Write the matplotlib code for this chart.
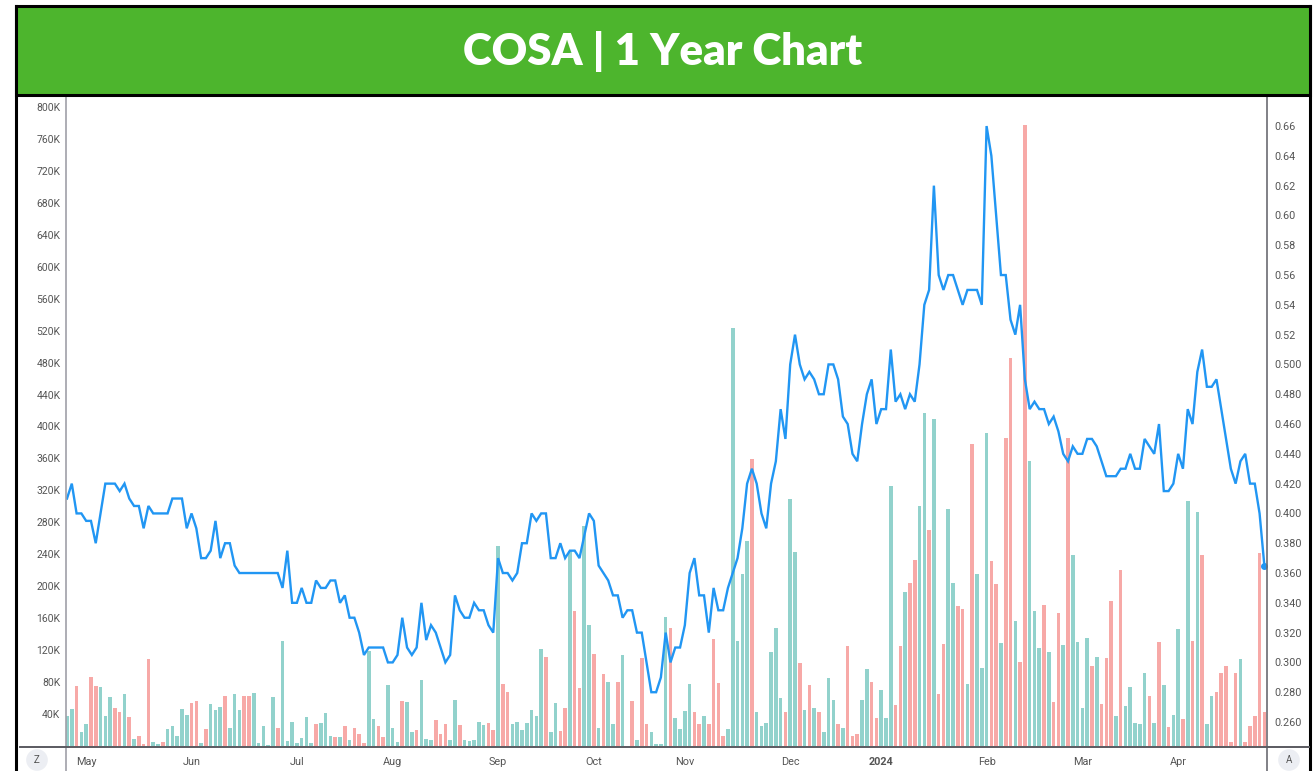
import matplotlib.pyplot as plt
from matplotlib.lines import Line2D
from matplotlib.patches import Rectangle


title = 'COSA | 1 Year Chart'

# closing price per trading day (bar index 0..250)
prices = [
    0.41, 0.42, 0.40, 0.40, 0.395, 0.395, 0.38, 0.40, 0.42, 0.42,
    0.42, 0.415, 0.42, 0.41, 0.405, 0.405, 0.39, 0.405, 0.40, 0.40,
    0.40, 0.40, 0.41, 0.41, 0.41, 0.39, 0.40, 0.39, 0.37, 0.37,
    0.375, 0.395, 0.37, 0.38, 0.38, 0.365, 0.36, 0.36, 0.36, 0.36,
    0.36, 0.36, 0.36, 0.36, 0.36, 0.35, 0.375, 0.34, 0.34, 0.35,
    0.34, 0.34, 0.355, 0.35, 0.35, 0.355, 0.355, 0.34, 0.345, 0.33,
    0.33, 0.32, 0.305, 0.31, 0.31, 0.31, 0.31, 0.30, 0.30, 0.305,
    0.33, 0.31, 0.305, 0.31, 0.34, 0.315, 0.325, 0.32, 0.31, 0.30,
    0.305, 0.345, 0.335, 0.33, 0.33, 0.34, 0.335, 0.335, 0.325, 0.32,
    0.37, 0.36, 0.36, 0.355, 0.36, 0.38, 0.38, 0.40, 0.395, 0.40,
    0.40, 0.37, 0.37, 0.38, 0.37, 0.375, 0.375, 0.37, 0.385, 0.40,
    0.395, 0.365, 0.36, 0.355, 0.345, 0.345, 0.33, 0.335, 0.335, 0.32,
    0.32, 0.30, 0.28, 0.28, 0.29, 0.32, 0.30, 0.31, 0.31, 0.325,
    0.36, 0.37, 0.345, 0.345, 0.32, 0.35, 0.335, 0.335, 0.35, 0.36,
    0.37, 0.39, 0.42, 0.43, 0.42, 0.40, 0.39, 0.42, 0.435, 0.47,
    0.45, 0.50, 0.52, 0.50, 0.49, 0.495, 0.49, 0.48, 0.48, 0.50,
    0.50, 0.49, 0.465, 0.46, 0.44, 0.435, 0.46, 0.48, 0.49, 0.46,
    0.47, 0.47, 0.51, 0.475, 0.48, 0.47, 0.48, 0.475, 0.50, 0.54,
    0.55, 0.62, 0.56, 0.55, 0.56, 0.56, 0.55, 0.54, 0.55, 0.55,
    0.55, 0.54, 0.66, 0.64, 0.60, 0.56, 0.56, 0.53, 0.52, 0.54,
    0.49, 0.47, 0.475, 0.47, 0.47, 0.46, 0.465, 0.455, 0.44, 0.435,
    0.445, 0.44, 0.44, 0.45, 0.45, 0.445, 0.435, 0.425, 0.425, 0.425,
    0.43, 0.43, 0.44, 0.43, 0.43, 0.45, 0.445, 0.44, 0.46, 0.415,
    0.415, 0.42, 0.44, 0.43, 0.47, 0.46, 0.495, 0.51, 0.485, 0.485,
    0.49, 0.47, 0.45, 0.43, 0.42, 0.435, 0.44, 0.42, 0.42, 0.40,
    0.365,
]

# daily volume in thousands of shares
volumes_k = [
    38, 46, 75, 18, 27.5, 86, 75, 74, 37, 61,
    48, 43, 65, 36, 9, 12.5, 3, 109, 5, 3,
    5, 21, 24.5, 12, 46, 39, 54, 56, 4, 21,
    52, 45, 49, 62, 23, 65, 45, 63, 62.5, 66,
    4, 25, 1.5, 61, 22, 131, 6, 30, 4, 10,
    36, 4, 27.5, 29, 41, 12, 11, 11, 25, 7.5,
    23, 15, 4, 119, 34, 25, 11, 76, 23, 5,
    56, 55, 18, 20, 82.5, 9, 7.5, 32.5, 15, 28,
    7.5, 58, 26, 7.5, 6, 7.5, 30, 26, 29, 20,
    250, 78, 67, 28, 30, 20, 29, 45, 37, 121,
    112, 18, 54, 19, 48, 244, 169, 72, 275, 151,
    115, 23, 90, 80, 27, 80, 114, 0.5, 56, 7.5,
    110, 27, 17, 2, 2.5, 162, 148, 35, 21, 44,
    78, 43, 27.5, 38, 27.5, 134, 79, 12, 21, 523,
    132, 215, 257, 359, 42, 25, 29, 117.5, 147.5, 60,
    43, 309, 243, 104, 45, 76, 47, 42, 18, 85,
    58, 27.5, 22, 125, 12, 15, 58, 97, 80, 35,
    70, 35, 326, 51, 125, 193, 204, 233, 301, 417,
    271, 410, 65, 128, 297, 204, 175, 172, 78, 378,
    215, 98, 392, 231, 203, 129, 385, 486, 156, 105,
    777, 357, 169, 123, 176, 117.5, 54.5, 167, 127, 386,
    239, 130, 48, 135, 100, 111, 52, 110, 182, 38,
    220, 50, 74, 29, 27.5, 91, 63, 29, 130, 76,
    24, 39, 146, 34, 307, 132, 293, 239, 27.5, 62,
    68, 92, 100, 4.6, 92, 109, 5, 25, 37, 241,
    43,
]

# g = up day, r = down day (volume bar colour)
bar_sides = list(
    "ggrggrrggg" "rrgrgrrrgg" "rgggggrrgr" "gggrgggrrg" "ggggrggggg"
    "ggrgggrgrg" "rrrggrrggg" "rggrgggrrr" "ggrgggggrr" "grrggggggg"
    "rggrrgrrgg" "rgrggrggrg" "rrggggrggg" "grrgrrrrgg" "gggrgggggg"
    "rggrgrgrgg" "grgrrrggrr" "gggrrgrrgg" "rgrrggrrgr" "gggrrgrrgr"
    "rgggrgrrgr" "ggggrgrrrg" "rgggggrgrg" "rggrgrgrgg" "rrrrrgrrrr"
    "r"
)

month_pos = [4, 26, 48, 68, 90, 110, 129, 151, 170, 192, 212, 232]
month_labels = ['May', 'Jun', 'Jul', 'Aug', 'Sep', 'Oct', 'Nov', 'Dec',
                '2024', 'Feb', 'Mar', 'Apr']
vol_ticks_k = [40, 80, 120, 160, 200, 240, 280, 320, 360, 400,
               440, 480, 520, 560, 600, 640, 680, 720, 760, 800]
price_ticks = [0.26, 0.28, 0.30, 0.32, 0.34, 0.36, 0.38, 0.40, 0.42, 0.44,
               0.46, 0.48, 0.50, 0.52, 0.54, 0.56, 0.58, 0.60, 0.62, 0.64,
               0.66]

W, H = 1314, 771


def fx(px):
    return px / W


def fy(py):
    return 1 - py / H


fig = plt.figure(figsize=(W / 100, H / 100), dpi=100)
fig.patch.set_facecolor('white')

# green title banner with black frame
fig.add_artist(Rectangle((fx(16), fy(95)), fx(1310) - fx(16), fy(6) - fy(95),
                         transform=fig.transFigure, facecolor='#4db52d',
                         edgecolor='black', linewidth=2.2, zorder=5))
fig.text(fx(663), fy(52), title, ha='center', va='center', color='white',
         fontsize=31.5, fontweight='heavy', family=['Lato', 'DejaVu Sans'],
         zorder=6)
for xpx in (16, 1310):
    fig.add_artist(Line2D([fx(xpx), fx(xpx)], [0, fy(6)],
                          transform=fig.transFigure, color='black', lw=2.2))

# main chart area
ax = fig.add_axes([fx(66), fy(746), fx(1267) - fx(66), fy(97) - fy(746)])
ax2 = ax.twinx()

x = list(range(len(prices)))
colors = ['#92d2cc' if s == 'g' else '#f7a9a7' for s in bar_sides]
ax.bar(x, [v * 1000 for v in volumes_k], width=0.75, color=colors,
       linewidth=0)
ax.set_ylim(0, 812500)
ax.set_xlim(-0.21, 250.55)

ax2.plot(x, prices, color='#2196f3', lw=1.7, solid_joinstyle='miter')
ax2.plot(x[-1], prices[-1], 'o', color='#2196f3', ms=4)
ax2.set_ylim(0.2439, 0.6795)

ax.set_yticks([v * 1000 for v in vol_ticks_k])
ax.set_yticklabels([f'{v}K' for v in vol_ticks_k])
ax2.set_yticks(price_ticks)
ax2.set_yticklabels([f'{p:.2f}' if p > 0.51 else f'{p:.3f}'
                     for p in price_ticks])
ax.set_xticks(month_pos)
ax.set_xticklabels(month_labels)
for lab in ax.get_xticklabels():
    if lab.get_text() == '2024':
        lab.set_fontweight('bold')
        lab.set_color('#333333')

tick_font = ['Roboto', 'DejaVu Sans']
ax.tick_params(axis='y', length=0, pad=4, labelsize=7.5, labelcolor='#555555')
ax.tick_params(axis='x', length=0, pad=8, labelsize=7.8, labelcolor='#555555')
ax2.tick_params(axis='y', length=0, pad=5, labelsize=7.8, labelcolor='#555555')
for lab in ax.get_xticklabels() + ax.get_yticklabels() + ax2.get_yticklabels():
    lab.set_family(tick_font)

for a in (ax, ax2):
    for sp in a.spines.values():
        sp.set_visible(False)

# axis lines running through the label strip, as in the screenshot
fig.add_artist(Line2D([fx(66), fx(66)], [0, fy(97)], transform=fig.transFigure,
                      color='#a0a0a8', lw=1.2))
fig.add_artist(Line2D([fx(1267), fx(1267)], [0, fy(97)],
                      transform=fig.transFigure, color='#6b6b72', lw=1.2))
fig.add_artist(Line2D([fx(20), fx(1309)], [fy(746.5), fy(746.5)],
                      transform=fig.transFigure, color='#5a5a60', lw=1.4))

# small scale buttons in the bottom corners
for xpx, letter in ((37, 'Z'), (1289, 'A')):
    fig.text(fx(xpx), fy(760), letter, ha='center', va='center', fontsize=7,
             color='#555555', family=tick_font,
             bbox=dict(boxstyle='circle,pad=0.6', fc='#eceef3', ec='none'))

fig.savefig('out.png', dpi=100)
